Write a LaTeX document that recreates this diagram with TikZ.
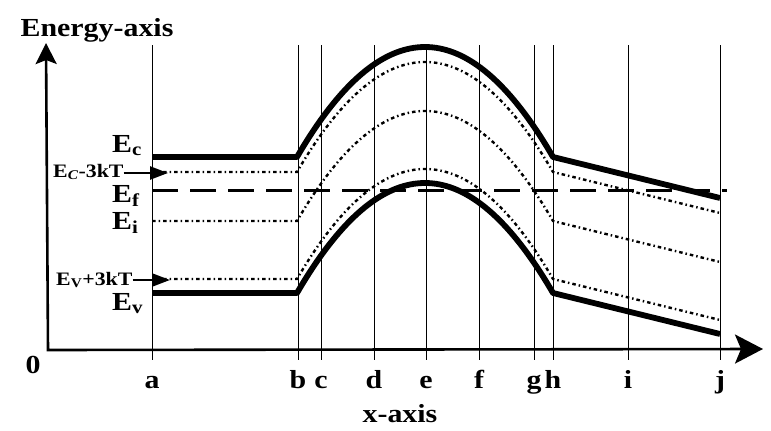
\documentclass[tikz,border=0pt]{standalone}
\usepackage{fontspec}
\setmainfont{Liberation Serif}[FakeStretch=1.15]
\usetikzlibrary{arrows.meta}
\newcommand\bandline[2]{%
  \draw[#1] (152,{#2+110}) -- (297,{#2+110})
    -- plot[domain=297:553,samples=80] (\x,{#2+110*((\x-425)/128)^2})
    -- (720,{#2+151});}
\begin{document}
\begin{tikzpicture}[x=1pt,y=-1pt,
  vline/.style={line width=0.9pt},
  band/.style={line width=5.8pt,line join=round},
  dotl/.style={line width=2.4pt,dash pattern=on 3.5pt off 3pt on 1.5pt off 3pt},
  ferm/.style={line width=3pt,dash pattern=on 26pt off 12pt},
  axisline/.style={line width=2.6pt,line join=miter},
  big/.style={font=\fontsize{26}{30}\selectfont\bfseries,inner sep=0pt},
  small/.style={font=\fontsize{19}{22}\selectfont\bfseries,inner sep=0pt},
  tick/.style={font=\fontsize{26}{30}\selectfont\bfseries,inner sep=0pt,anchor=base},
]
\useasboundingbox (0,0) rectangle (771,431);
% vertical guide lines and their labels
\foreach \n/\xx in {a/152,b/298,c/321,d/374,e/426,f/479,g/534,h/553,i/628,j/720}{
  \coordinate (\n top) at (\xx,45);
  \coordinate (\n bot) at (\xx,360);
  \draw[vline] (\n top) -- (\n bot);
  \node[tick] (lab\n) at (\xx,388) {\n};
}
% axes
\coordinate (ytip) at (46,43);
\coordinate (origin) at (48,350);
\coordinate (xtip) at (763,349);
\draw[axisline,{Stealth[length=21pt,width=21pt,inset=4pt]}-{Stealth[length=28pt,width=29pt,inset=6pt]}]
  (ytip) -- (origin) -- (xtip);
\node[tick] (zero) at (33,373) {0};
\node[tick] (xlabel) at (400,422) {x-axis};
\node[tick] (ylabel) at (97,36) {Energy-axis};
% bands
\bandline{band}{47}
\bandline{dotl}{62}
\bandline{dotl}{111}
\bandline{dotl}{169}
\bandline{band}{183}
\coordinate (efstart) at (152,190);
\coordinate (efend) at (727,190);
\draw[ferm] (efstart) -- (efend);
% level labels
\node[big,anchor=base west] (Ec) at (112,152) {E\textsubscript{c}};
\node[big,anchor=base west] (Ef) at (112,202) {E\textsubscript{f}};
\node[big,anchor=base west] (Ei) at (112,229) {E\textsubscript{i}};
\node[big,anchor=base west] (Ev) at (112,310) {E\textsubscript{v}};
\node[small,anchor=base west] (Eck) at (53,177) {E\textsubscript{\textit{C}}-3kT};
\node[small,anchor=base west] (Evk) at (56,285) {E\textsubscript{V}+3kT};
\coordinate (ecktip) at (168,173);
\coordinate (evktip) at (170,280);
\draw[line width=2.5pt,-{Triangle[length=18pt,width=13pt]}] (Eck.east |- ecktip) -- (ecktip);
\draw[line width=2.5pt,-{Triangle[length=18pt,width=13pt]}] (Evk.east |- evktip) -- (evktip);
\end{tikzpicture}
\end{document}
